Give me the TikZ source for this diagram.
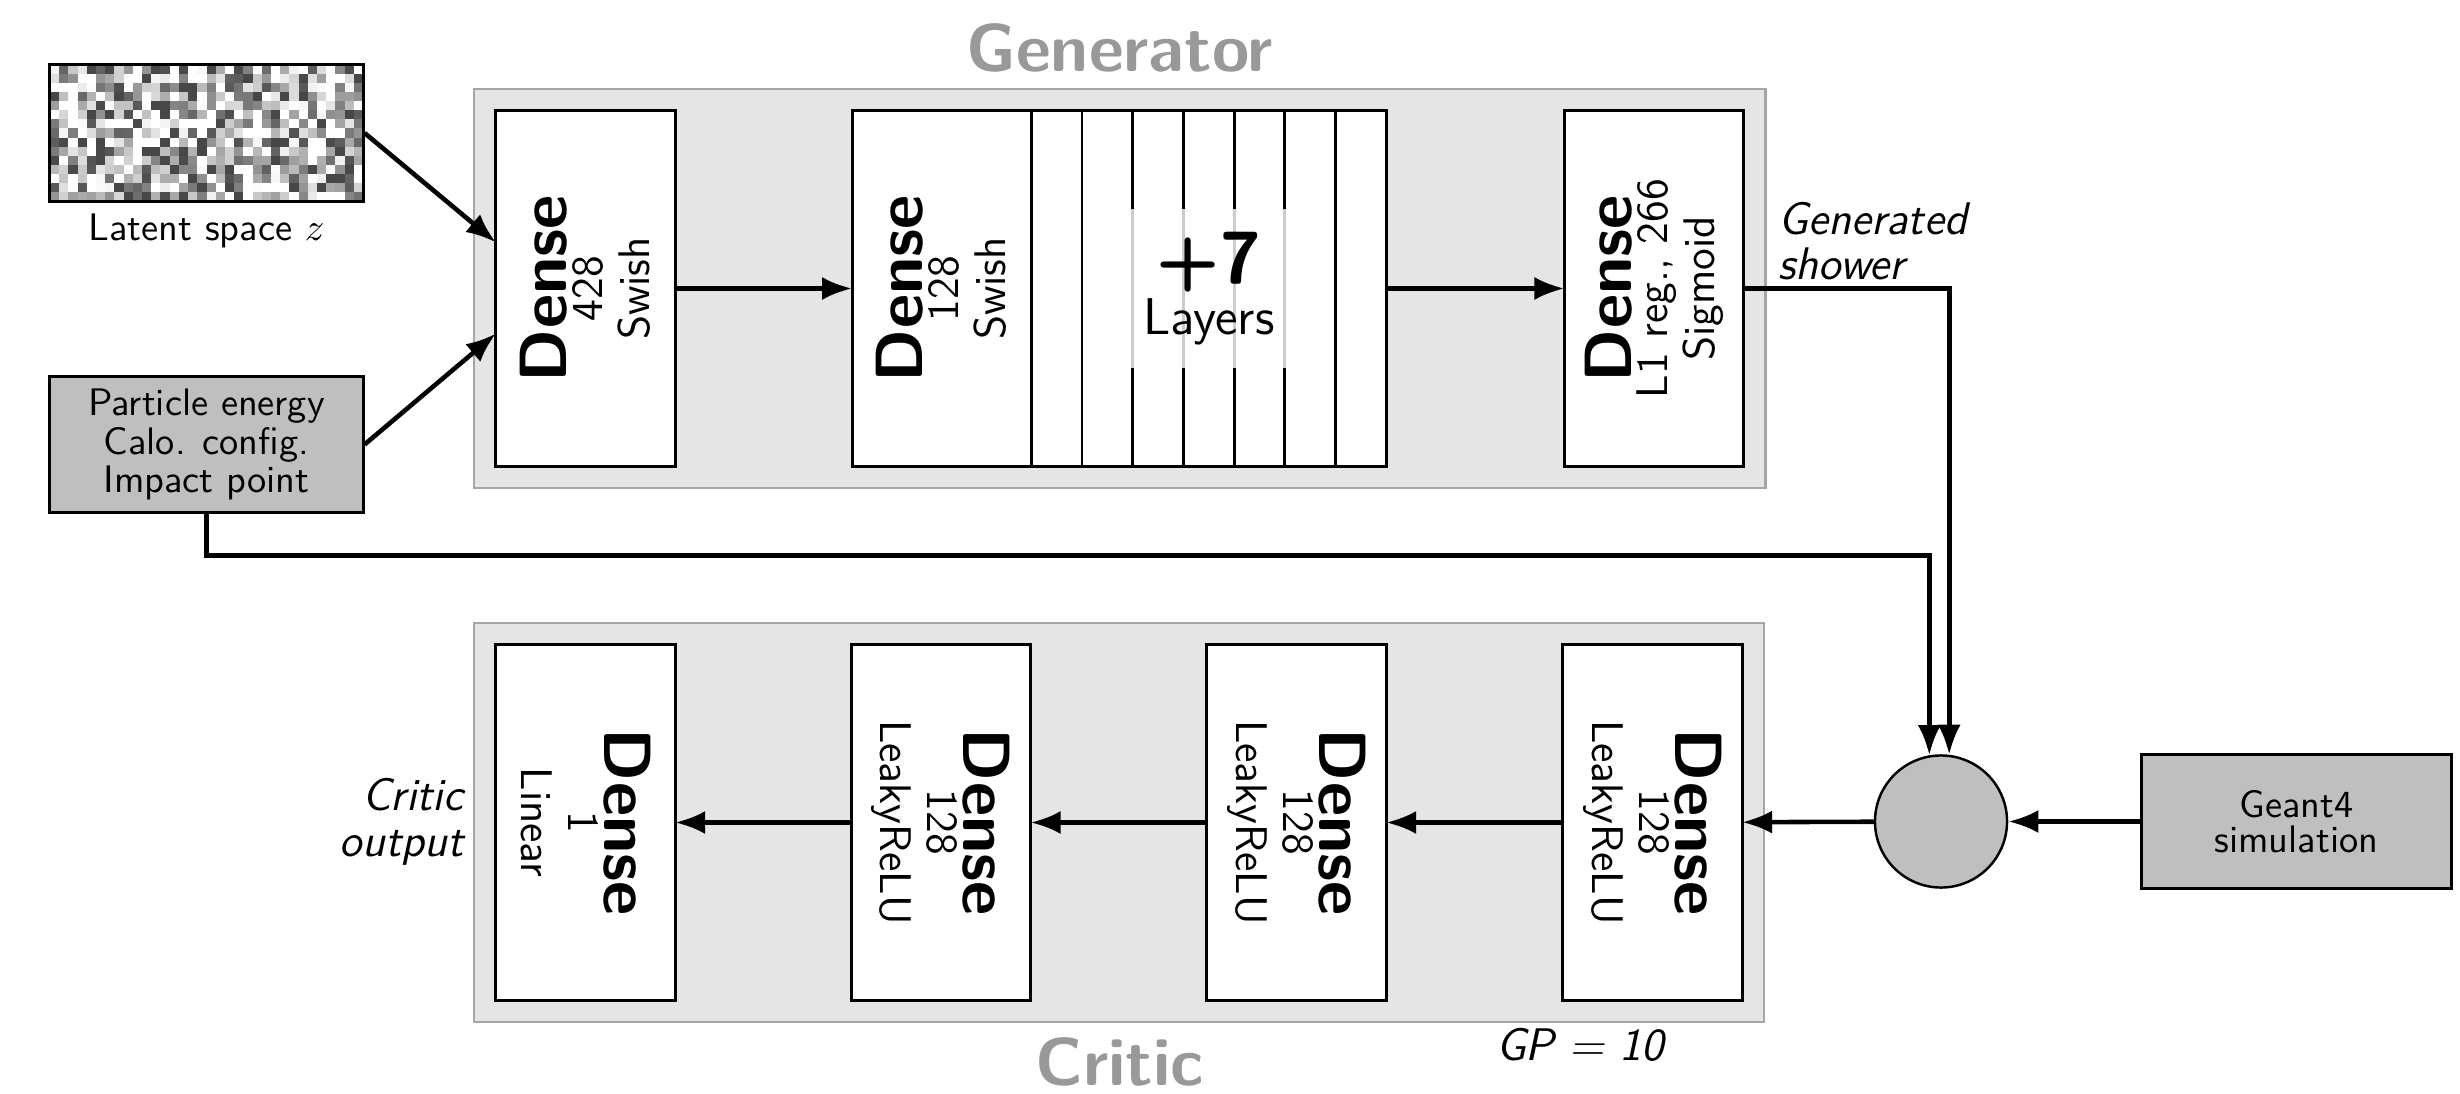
\documentclass[tikz,border=0pt]{standalone}
\usepackage{fontspec}
\renewcommand{\familydefault}{\sfdefault}
\usetikzlibrary{positioning,fit,backgrounds,arrows.meta}

\newcommand{\densefont}{\fontsize{19}{19}\selectfont\bfseries}
\newcommand{\dense}[2]{{\densefont Dense}\\[-3.2pt]#1\\#2}

\tikzset{
  layer/.style={draw, fill=white, line width=0.85pt, minimum width=1.79cm,
    minimum height=3.55cm, inner sep=0pt, outer sep=0pt},
  stripe/.style={layer, minimum width=0.507cm},
  lyrtxt/.style={align=center, inner sep=0pt, font=\fontsize{12.6}{13.4}\selectfont},
  inbox/.style={draw, fill=black!25, line width=0.85pt, align=center, inner sep=0pt,
    font=\fontsize{10.9}{9.8}\selectfont},
  bgbox/.style={draw=black!35, fill=black!10, line width=0.7pt, inner sep=0.22cm},
  title/.style={text=black!40, font=\fontsize{19.3}{20}\selectfont\bfseries},
  lbl/.style={inner sep=0pt, font=\fontsize{13}{13}\selectfont\itshape},
  arr/.style={-{Latex[length=0.3cm,width=0.23cm]}, line width=1.3pt},
}

\begin{document}
\begin{tikzpicture}[x=0.01cm, y=-0.01cm]
\useasboundingbox (0,0) rectangle (2460,1094);

% latent noise
\pgfmathsetseed{42}
\foreach \i in {0,...,33}
  \foreach \j in {0,...,14} {
    \pgfmathtruncatemacro{\g}{max(0,min(72,rnd*105-22))}
    \fill[black!\g] ({50+\i*9.206},{65+\j*9.067}) rectangle ++(9.4,9.3);
  }
\node[draw, line width=0.85pt, minimum width=3.13cm, minimum height=1.36cm, inner sep=0pt] (latent) at (206.5,133) {};
\node[anchor=base, font=\fontsize{10.9}{12}\selectfont] (latentlbl) at (206.5,241) {Latent space $z$};
\node[inbox, minimum width=3.13cm, minimum height=1.35cm] (cond) at (206.5,444.5) {Particle energy\\Calo. config.\\Impact point};

% generator
\node[layer] (g1) at (585.5,288.5) {};
\node[lyrtxt, rotate=90] (g1t) at (g1) {\dense{428}{Swish}};
\node[layer, right=1.77cm of g1] (g2) {};
\node[lyrtxt, rotate=90] (g2t) at (g2) {\dense{128}{Swish}};
\node[stripe, anchor=west] (s1) at (g2.east) {};
\foreach \i [count=\k from 2] in {1,...,6}
  \node[stripe, right=0pt of s\i] (s\k) {};
\node[fill=white, fill opacity=0.8, text opacity=1, minimum width=1.55cm, minimum height=1.58cm,
  align=center, font=\fontsize{14.7}{14.6}\selectfont] (more) at (s4) {{\fontsize{21}{21}\selectfont\bfseries +7}\\Layers};
\node[layer, right=1.78cm of s7] (g3) {};
\node[lyrtxt, rotate=90] (g3t) at (g3) {\dense{L1 reg., 266}{Sigmoid}};

% critic
\foreach \n/\x/\u/\f in {c1/585.5/1/Linear, c2/941/128/LeakyReLU, c3/1296.5/128/LeakyReLU, c4/1652.5/128/LeakyReLU} {
  \node[layer] (\n) at (\x,822.5) {};
  \node[lyrtxt, rotate=-90] (\n t) at (\n) {\dense{\u}{\f}};
}

\begin{scope}[on background layer]
  \node[bgbox, fit=(g1)(g3)] (gen) {};
  \node[bgbox, fit=(c1)(c4)] (crit) {};
\end{scope}

\node[title, anchor=base] (gentitle) at (1119.5,72) {Generator};
\node[title, anchor=base] (crittitle) at (1119.5,1085) {Critic};
\node[lbl, anchor=base] (gp) at (1580,1060) {GP = 10};

\node[circle, draw, fill=black!25, line width=0.7pt, minimum size=1.32cm, inner sep=0pt] (merge) at (1941,821.5) {};
\node[inbox, minimum width=3.09cm, minimum height=1.33cm] (geant) at (2296.5,821.5) {Geant4\\simulation};

\node[lbl, align=left, anchor=south west] (genout) at (1778,281) {Generated\\shower};
\node[lbl, align=right, anchor=east] (critout) at (464,822) {Critic\\output};

% connectors
\draw[arr] (latent.east) -- ([yshift=0.46cm]g1.west);
\draw[arr] (cond.east) -- ([yshift=-0.45cm]g1.west);
\draw[arr] (g1) -- (g2);
\draw[arr] (s7) -- (g3);
\draw[arr] (g3.east) -| (merge.83);
\draw[arr] (cond.south) -- ++(0,42) -| (merge.100);
\draw[arr] (geant) -- (merge);
\draw[arr] (merge) -- (c4);
\draw[arr] (c4) -- (c3);
\draw[arr] (c3) -- (c2);
\draw[arr] (c2) -- (c1);
\end{tikzpicture}
\end{document}
